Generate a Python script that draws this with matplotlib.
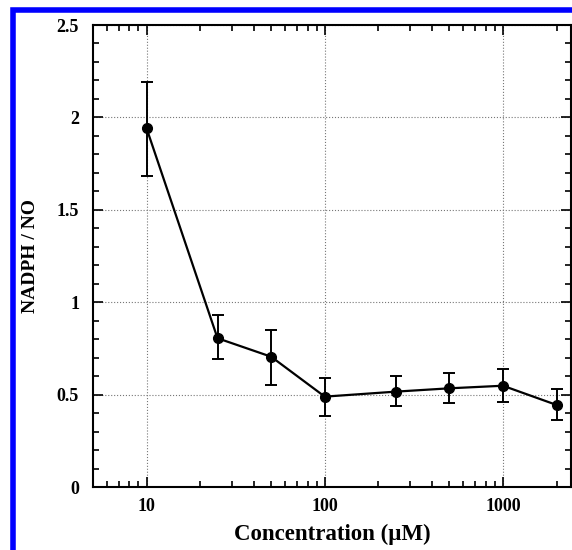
import matplotlib
matplotlib.use('Agg')
from matplotlib import pyplot as plt
from matplotlib.patches import Rectangle
from matplotlib.ticker import LogLocator, MultipleLocator, FixedLocator
import numpy as np

plt.rcParams['font.family'] = ['Liberation Serif', 'DejaVu Serif']
plt.rcParams['font.weight'] = 'bold'

# data
conc = [10, 25, 50, 100, 250, 500, 1000, 2000]  # uM
ratio = [1.94, 0.805, 0.705, 0.489, 0.516, 0.534, 0.548, 0.444]
err_hi = [2.19, 0.932, 0.850, 0.590, 0.602, 0.615, 0.640, 0.532]
err_lo = [1.683, 0.691, 0.552, 0.386, 0.438, 0.453, 0.460, 0.361]

ratio = np.array(ratio)
yerr = [ratio - np.array(err_lo), np.array(err_hi) - ratio]

W, H = 572, 550
fig = plt.figure(figsize=(W/100, H/100), dpi=100)
fig.set_facecolor('white')

# blue frame, cut off on right and bottom
fig.patches.append(Rectangle((12.5/W, -0.1), 1.2, (H - 9.5)/H + 0.1,
                             transform=fig.transFigure, fill=False,
                             edgecolor='#0000ff', linewidth=4))

ax = fig.add_axes([93/W, 1 - 487/H, (571 - 93)/W, (487 - 25)/H])

ax.errorbar(conc, ratio, yerr=yerr, color='black', linewidth=1.6,
            marker='o', markersize=7, capsize=4, elinewidth=1.4, capthick=1.4)

ax.set_xscale('log')
ax.set_xlim(5, 2410)
ax.set_ylim(0, 2.5)

ax.xaxis.set_major_locator(FixedLocator([10, 100, 1000]))
ax.xaxis.set_minor_locator(LogLocator(base=10, subs=np.arange(2, 10)))
ax.xaxis.set_minor_formatter(plt.NullFormatter())
ax.set_xticklabels(['10', '100', '1000'])
ax.yaxis.set_minor_locator(MultipleLocator(0.1))
ax.set_yticks([0, 0.5, 1, 1.5, 2, 2.5])
ax.set_yticklabels(['0', '0.5', '1', '1.5', '2', '2.5'])

ax.tick_params(which='both', direction='in', top=True, right=True,
               labelsize=13, width=1.2)
ax.tick_params(which='major', length=7)
ax.tick_params(which='minor', length=4)
ax.tick_params(axis='y', which='major', pad=10)
ax.tick_params(axis='x', which='major', pad=8)
for s in ax.spines.values():
    s.set_linewidth(1.5)

ax.grid(True, which='major', linestyle=':', color='#777777', linewidth=0.8)

ax.set_xlabel('Concentration (\u00b5M)', fontsize=16.5, fontweight='bold', labelpad=6)
ax.set_ylabel('NADPH / NO', fontsize=14, fontweight='bold')
ax.yaxis.set_label_coords(39/W, 1 - 256/H, transform=fig.transFigure)

fig.savefig('out.png', dpi=100, facecolor='white')
